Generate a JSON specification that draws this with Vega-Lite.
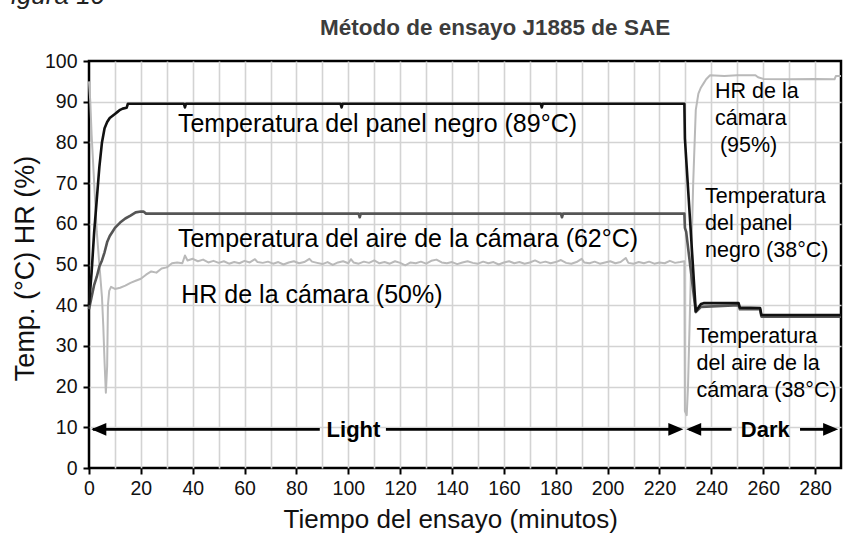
{
  "$schema": "https://vega.github.io/schema/vega-lite/v6.json",
  "autosize": {"type": "none"},
  "width": 752,
  "height": 407,
  "padding": {"left": 89, "top": 61, "right": 8, "bottom": 66},
  "background": "white",
  "config": {
    "view": {"stroke": "#000000", "strokeWidth": 2.5},
    "axis": {
      "domain": false,
      "gridColor": "#d3d3d3",
      "gridWidth": 1.6,
      "tickColor": "#000000",
      "tickWidth": 2,
      "tickSize": 6,
      "labelFont": "Liberation Sans",
      "labelFontSize": 19.5,
      "labelColor": "#111111",
      "titleFont": "Liberation Sans",
      "titleFontWeight": "normal",
      "titleColor": "#111111"
    }
  },
  "datasets": {
    "panel": [
      {"t": 0, "v": 40}, {"t": 1, "v": 48}, {"t": 2, "v": 58}, {"t": 3, "v": 66}, {"t": 4, "v": 74}, {"t": 5, "v": 80}, {"t": 6, "v": 83.5}, {"t": 7, "v": 85}, {"t": 8, "v": 86}, {"t": 9, "v": 86.5}, {"t": 10, "v": 87}, {"t": 11, "v": 87.5}, {"t": 12, "v": 88}, {"t": 13, "v": 88.3}, {"t": 14.5, "v": 88.5}, {"t": 15, "v": 89.5},
      {"t": 36.6, "v": 89.5}, {"t": 37, "v": 88.6}, {"t": 37.4, "v": 89.5},
      {"t": 97, "v": 89.5}, {"t": 97.4, "v": 88.6}, {"t": 97.8, "v": 89.5},
      {"t": 174.2, "v": 89.5}, {"t": 174.6, "v": 88.6}, {"t": 175, "v": 89.5},
      {"t": 229.6, "v": 89.5}, {"t": 229.8, "v": 81}, {"t": 234, "v": 38.5}, {"t": 236, "v": 40.3}, {"t": 237, "v": 40.5}, {"t": 250.5, "v": 40.5}, {"t": 251, "v": 39.4}, {"t": 258.8, "v": 39.3}, {"t": 259.3, "v": 37.6}, {"t": 290, "v": 37.6}
    ],
    "aire": [
      {"t": 0, "v": 39}, {"t": 1, "v": 42}, {"t": 2, "v": 45}, {"t": 3, "v": 47}, {"t": 4, "v": 49.5}, {"t": 5, "v": 51}, {"t": 6, "v": 53}, {"t": 7, "v": 55.5}, {"t": 8, "v": 57}, {"t": 9, "v": 58}, {"t": 10, "v": 59}, {"t": 12, "v": 60.3}, {"t": 14, "v": 61.3}, {"t": 16, "v": 62}, {"t": 18, "v": 62.8}, {"t": 20, "v": 63}, {"t": 21, "v": 63}, {"t": 22, "v": 62.5},
      {"t": 104, "v": 62.5}, {"t": 104.4, "v": 61.6}, {"t": 104.8, "v": 62.5},
      {"t": 182, "v": 62.5}, {"t": 182.4, "v": 61.6}, {"t": 182.8, "v": 62.5},
      {"t": 229.6, "v": 62.5}, {"t": 229.8, "v": 59}, {"t": 230.3, "v": 58}, {"t": 234, "v": 38.3}, {"t": 236, "v": 39.6}, {"t": 250.5, "v": 40}, {"t": 251, "v": 39}, {"t": 258.8, "v": 39}, {"t": 259.3, "v": 37.2}, {"t": 290, "v": 37.2}
    ],
    "hr": [
      {"t": 0, "v": 95}, {"t": 0.5, "v": 90}, {"t": 1, "v": 82}, {"t": 2, "v": 70}, {"t": 3, "v": 58}, {"t": 4, "v": 50}, {"t": 5, "v": 42}, {"t": 5.5, "v": 35}, {"t": 6, "v": 26}, {"t": 6.5, "v": 18.5}, {"t": 7, "v": 25}, {"t": 7.3, "v": 40}, {"t": 7.8, "v": 43.5}, {"t": 8.5, "v": 44.5}, {"t": 10, "v": 44}, {"t": 12, "v": 44.3}, {"t": 14, "v": 44.8}, {"t": 16, "v": 45.5}, {"t": 18, "v": 46}, {"t": 20, "v": 46.5}, {"t": 22, "v": 47.5}, {"t": 24, "v": 48.3}, {"t": 26, "v": 48}, {"t": 28, "v": 49}, {"t": 30, "v": 49.3}, {"t": 32, "v": 50.3}, {"t": 34, "v": 50.5}, {"t": 36, "v": 50.3}, {"t": 37, "v": 52.2}, {"t": 38, "v": 51}, {"t": 40, "v": 51.4}, {"t": 42, "v": 50.8}, {"t": 44, "v": 51.2}, {"t": 46, "v": 50.5}, {"t": 48, "v": 50.9},
      {"t": 50, "v": 50.4}, {"t": 52, "v": 50.8}, {"t": 54, "v": 50.2}, {"t": 56, "v": 50.6}, {"t": 58, "v": 50.3}, {"t": 60, "v": 50.9}, {"t": 62, "v": 50.5}, {"t": 64, "v": 51.3}, {"t": 65, "v": 50.6}, {"t": 67, "v": 50.4}, {"t": 69, "v": 50.7}, {"t": 71, "v": 50.2}, {"t": 73, "v": 50.6}, {"t": 75, "v": 50}, {"t": 77, "v": 50.5}, {"t": 79, "v": 50.8}, {"t": 81, "v": 50.3}, {"t": 83, "v": 50.6}, {"t": 85, "v": 51.4}, {"t": 86, "v": 50.7}, {"t": 88, "v": 50.4}, {"t": 90, "v": 50.1}, {"t": 92, "v": 50.6}, {"t": 94, "v": 49.9}, {"t": 96, "v": 50.5}, {"t": 98, "v": 50.8}, {"t": 100, "v": 50.3}, {"t": 101, "v": 51.3}, {"t": 102, "v": 50.5}, {"t": 104, "v": 50.2}, {"t": 106, "v": 50.7}, {"t": 108, "v": 50.4}, {"t": 110, "v": 51}, {"t": 112, "v": 50.3}, {"t": 114, "v": 50.6}, {"t": 116, "v": 50.2}, {"t": 118, "v": 50.8}, {"t": 120, "v": 50.4}, {"t": 122, "v": 49.8}, {"t": 124, "v": 50.5}, {"t": 126, "v": 50.3}, {"t": 128, "v": 50.7}, {"t": 130, "v": 50.2}, {"t": 132, "v": 50.9}, {"t": 134, "v": 51.2}, {"t": 136, "v": 50.5}, {"t": 138, "v": 50.3}, {"t": 140, "v": 50.6}, {"t": 142, "v": 50.1}, {"t": 144, "v": 50.5}, {"t": 146, "v": 50.8}, {"t": 148, "v": 50.4}, {"t": 150, "v": 50.2}, {"t": 152, "v": 50.7}, {"t": 154, "v": 50.3}, {"t": 156, "v": 50.6}, {"t": 158, "v": 50}, {"t": 160, "v": 50.5}, {"t": 162, "v": 50.8}, {"t": 164, "v": 50.3}, {"t": 166, "v": 50.6}, {"t": 168, "v": 50.2}, {"t": 170, "v": 50.5}, {"t": 172, "v": 51}, {"t": 174, "v": 50.4}, {"t": 176, "v": 50.7}, {"t": 178, "v": 50.3}, {"t": 180, "v": 50.6}, {"t": 182, "v": 51.1}, {"t": 184, "v": 50.4}, {"t": 186, "v": 50.2}, {"t": 188, "v": 50.6}, {"t": 190, "v": 51.4}, {"t": 191, "v": 50.5}, {"t": 193, "v": 50.3}, {"t": 195, "v": 50.7}, {"t": 197, "v": 50.2}, {"t": 199, "v": 50.5}, {"t": 201, "v": 50.8}, {"t": 203, "v": 50.3}, {"t": 205, "v": 50.6}, {"t": 207, "v": 51.6}, {"t": 208, "v": 50.4}, {"t": 210, "v": 50.2}, {"t": 212, "v": 50.6}, {"t": 214, "v": 50.3}, {"t": 216, "v": 50.7}, {"t": 218, "v": 50.2}, {"t": 220, "v": 50.5}, {"t": 222, "v": 50.3}, {"t": 224, "v": 50.9}, {"t": 226, "v": 50.4}, {"t": 228, "v": 50.6}, {"t": 229.6, "v": 50.8},
      {"t": 229.8, "v": 14}, {"t": 230.5, "v": 13}, {"t": 231, "v": 20}, {"t": 232, "v": 45}, {"t": 233, "v": 70}, {"t": 234, "v": 88}, {"t": 235, "v": 92}, {"t": 236, "v": 93.5}, {"t": 237, "v": 94.5}, {"t": 238, "v": 95.5}, {"t": 239.5, "v": 96.5}, {"t": 245, "v": 96.3}, {"t": 250, "v": 96.5}, {"t": 257, "v": 96.5}, {"t": 258, "v": 96}, {"t": 260, "v": 95.6}, {"t": 270, "v": 95.5}, {"t": 280, "v": 95.6}, {"t": 287.5, "v": 95.5}, {"t": 288, "v": 96.3}, {"t": 290, "v": 96.3}
    ]
  },
  "encoding": {
    "x": {
      "field": "t", "type": "quantitative",
      "scale": {"domain": [0, 290], "nice": false, "zero": false},
      "axis": {
        "title": "Tiempo del ensayo (minutos)",
        "titleFontSize": 26,
        "values": [0, 10, 20, 30, 40, 50, 60, 70, 80, 90, 100, 110, 120, 130, 140, 150, 160, 170, 180, 190, 200, 210, 220, 230, 240, 250, 260, 270, 280, 290],
        "labelExpr": "datum.value % 20 === 0 ? datum.label : ''",
        "tickOpacity": {"condition": {"test": "datum.value % 20 === 0", "value": 1}, "value": 0},
        "gridOpacity": {"condition": {"test": "datum.value === 0 || datum.value === 290", "value": 0}, "value": 1},
        "labelPadding": 5,
        "labelFlush": false,
        "labelOverlap": false,
        "titleX": 194,
        "titleY": 59,
        "titleAlign": "left",
        "titleAnchor": null,
        "titleBaseline": "alphabetic"
      }
    },
    "y": {
      "field": "v", "type": "quantitative",
      "scale": {"domain": [0, 100], "nice": false},
      "axis": {
        "title": "Temp. (°C) HR (%)",
        "titleFontSize": 27,
        "values": [0, 10, 20, 30, 40, 50, 60, 70, 80, 90, 100],
        "gridOpacity": {"condition": {"test": "datum.value === 0 || datum.value === 100", "value": 0}, "value": 1},
        "labelPadding": 6,
        "labelFlush": false,
        "labelOverlap": false,
        "titleX": -64,
        "titleY": 207,
        "titleAlign": "center",
        "titleAnchor": null,
        "titleBaseline": "middle",
        "titleAngle": -90
      }
    }
  },
  "layer": [
    {"data": {"name": "hr"}, "mark": {"type": "line", "color": "#b9b9b9", "strokeWidth": 2, "strokeJoin": "round"}},
    {"data": {"name": "aire"}, "mark": {"type": "line", "color": "#555555", "strokeWidth": 2.6, "strokeJoin": "round"}},
    {"data": {"name": "panel"}, "mark": {"type": "line", "color": "#111111", "strokeWidth": 2.6, "strokeJoin": "round"}},
    {
      "data": {"values": [
        {"t": 1.5, "t2": 89, "v": 9.5},
        {"t": 114.5, "t2": 227.5, "v": 9.5},
        {"t": 231.5, "t2": 247.8, "v": 9.5},
        {"t": 274.2, "t2": 287.5, "v": 9.5}
      ]},
      "mark": {"type": "rule", "color": "#000000", "strokeWidth": 2.8},
      "encoding": {"x2": {"field": "t2"}}
    },
    {
      "data": {"values": [{"t": 0.9, "v": 9.5}, {"t": 230.3, "v": 9.5}]},
      "mark": {"type": "point", "shape": "M0,0L2,-0.85L2,0.85Z", "size": 225, "filled": true, "color": "#000000", "opacity": 1, "strokeWidth": 0}
    },
    {
      "data": {"values": [{"t": 229.2, "v": 9.5}, {"t": 288.9, "v": 9.5}]},
      "mark": {"type": "point", "shape": "M0,0L-2,-0.85L-2,0.85Z", "size": 225, "filled": true, "color": "#000000", "opacity": 1, "strokeWidth": 0}
    },
    {
      "data": {"values": [{"t": 102, "v": 9.5, "label": "Light"}, {"t": 260.8, "v": 9.5, "label": "Dark"}]},
      "mark": {"type": "text", "font": "Liberation Sans", "fontSize": 22, "fontWeight": "bold", "color": "#000000", "align": "center", "baseline": "middle", "dy": 1},
      "encoding": {"text": {"field": "label"}}
    },
    {
      "data": {"values": [
        {"t": 34.3, "v": 82.6, "label": "Temperatura del panel negro (89°C)"},
        {"t": 34.3, "v": 54.4, "label": "Temperatura del aire de la cámara (62°C)"},
        {"t": 35.6, "v": 40.5, "label": "HR de la cámara (50%)"}
      ]},
      "mark": {"type": "text", "font": "Liberation Sans", "fontSize": 25, "color": "#000000", "align": "left", "baseline": "alphabetic"},
      "encoding": {"text": {"field": "label"}}
    },
    {
      "data": {"values": [
        {"t": 241.4, "v": 90.8, "label": "HR de la"},
        {"t": 241.4, "v": 84.3, "label": "cámara"},
        {"t": 243.3, "v": 77.7, "label": "(95%)"},
        {"t": 237.6, "v": 65.0, "label": "Temperatura"},
        {"t": 237.6, "v": 58.5, "label": "del panel"},
        {"t": 237.6, "v": 51.9, "label": "negro (38°C)"},
        {"t": 234.3, "v": 30.6, "label": "Temperatura"},
        {"t": 234.3, "v": 24.1, "label": "del aire de la"},
        {"t": 234.3, "v": 17.5, "label": "cámara (38°C)"}
      ]},
      "mark": {"type": "text", "font": "Liberation Sans", "fontSize": 21.5, "color": "#000000", "align": "left", "baseline": "alphabetic"},
      "encoding": {"text": {"field": "label"}}
    },
    {
      "data": {"values": [{"t": 156.6, "v": 106.4, "label": "Método de ensayo J1885 de SAE"}]},
      "mark": {"type": "text", "font": "Liberation Sans", "fontSize": 22.5, "fontWeight": "bold", "color": "#3c3c3c", "align": "center", "baseline": "alphabetic", "clip": false},
      "encoding": {"text": {"field": "label"}}
    },
    {
      "data": {"values": [{"t": 6.2, "v": 114.0, "label": "Figura 10"}]},
      "mark": {"type": "text", "font": "Liberation Sans", "fontSize": 26, "fontStyle": "italic", "color": "#222222", "align": "right", "baseline": "alphabetic", "clip": false},
      "encoding": {"text": {"field": "label"}}
    }
  ]
}
